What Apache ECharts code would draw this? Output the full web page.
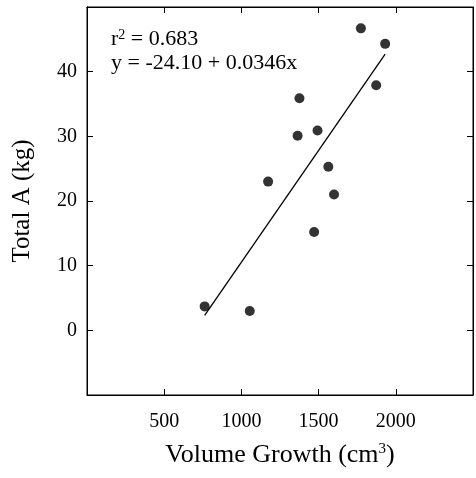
<!DOCTYPE html>
<html>
<head>
<meta charset="utf-8">
<script src="https://cdn.jsdelivr.net/npm/echarts@6/dist/echarts.min.js"></script>
<style>
html,body{margin:0;padding:0;background:#fff;}
#chart{width:476px;height:478px;}
</style>
</head>
<body>
<div id="chart"></div>
<script>
var volumeGrowth = [762, 1054, 1173, 1364, 1376, 1493, 1471, 1563, 1600, 1774, 1873, 1931];
var totalA = [3.7, 3.0, 23.0, 30.1, 35.9, 30.9, 15.2, 25.3, 21.0, 46.7, 37.9, 44.3];
var fitX = [762, 1931];
var fitY = [2.3, 42.7];
var xTicks = [500, 1000, 1500, 2000];
var yTicks = [0, 10, 20, 30, 40];

var FONT = '"Liberation Serif", "DejaVu Serif", serif';
var chart = echarts.init(document.getElementById('chart'));

var points = volumeGrowth.map(function (v, i) { return [v, totalA[i]]; });
var fitLine = fitX.map(function (v, i) { return [v, fitY[i]]; });

var tickStyle = { show: true, inside: true, length: 6, lineStyle: { color: '#000', width: 1 } };
var lineStyle = { show: true, onZero: false, lineStyle: { color: '#000', width: 1 } };

chart.setOption({
  animation: false,
  backgroundColor: '#fff',
  grid: { left: 87, right: 2, top: 7, bottom: 83, show: true, borderColor: '#000', borderWidth: 1, backgroundColor: 'transparent' },
  xAxis: [{
    type: 'value', min: 0, max: 2500, interval: 500,
    axisLine: lineStyle,
    axisTick: tickStyle,
    splitLine: { show: false },
    axisLabel: {
      color: '#000', fontFamily: FONT, fontSize: 20, margin: 17,
      formatter: function (v) { return xTicks.indexOf(v) >= 0 ? String(v) : ''; }
    },
    name: '{a|Volume Growth (cm}{s|3}{a|)}',
    nameLocation: 'middle', nameGap: 47,
    nameTextStyle: {
      rich: {
        a: { fontFamily: FONT, fontSize: 26, color: '#000' },
        s: { fontFamily: FONT, fontSize: 15, color: '#000', verticalAlign: 'top', padding: [0, 0, 12, 0] }
      }
    }
  }, {
    type: 'value', min: 0, max: 2500, interval: 500, position: 'top',
    axisLine: lineStyle,
    axisTick: tickStyle, axisLabel: { show: false }, splitLine: { show: false }
  }],
  yAxis: [{
    type: 'value', min: -10, max: 50, interval: 10,
    axisLine: lineStyle,
    axisTick: tickStyle,
    splitLine: { show: false },
    axisLabel: {
      color: '#000', fontFamily: FONT, fontSize: 20, margin: 10,
      formatter: function (v) { return yTicks.indexOf(v) >= 0 ? String(v) : ''; }
    },
    name: 'Total A (kg)',
    nameLocation: 'middle', nameGap: 52,
    nameTextStyle: { fontFamily: FONT, fontSize: 25, color: '#000' }
  }, {
    type: 'value', min: -10, max: 50, interval: 10, position: 'right',
    axisLine: lineStyle,
    axisTick: tickStyle, axisLabel: { show: false }, splitLine: { show: false }
  }],
  graphic: [{
    type: 'text', left: 111, top: 28,
    style: {
      text: '{a|r}{s|2}{a| = 0.683}',
      rich: {
        a: { fontFamily: FONT, fontSize: 22, fill: '#000' },
        s: { fontFamily: FONT, fontSize: 14, fill: '#000', verticalAlign: 'top', padding: [0, 0, 9, 0] }
      }
    }
  }, {
    type: 'text', left: 111, top: 52,
    style: { text: 'y = -24.10 + 0.0346x', font: '22px ' + FONT, fill: '#000' }
  }],
  series: [{
    type: 'line', data: fitLine, symbol: 'none',
    lineStyle: { color: '#000', width: 1.3 }, z: 2
  }, {
    type: 'scatter', data: points, symbol: 'circle', symbolSize: 10,
    itemStyle: { color: '#000' }, z: 3
  }]
});
</script>
</body>
</html>
